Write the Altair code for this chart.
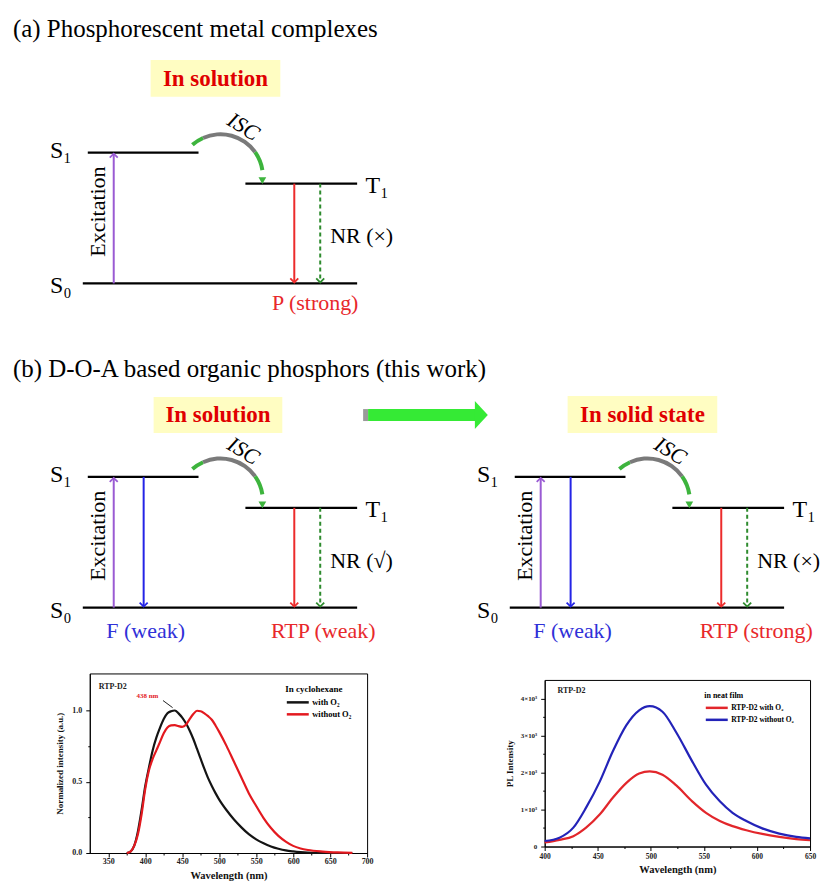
import altair as alt
import pandas as pd

FONT = "Liberation Serif"

# ======================= DATA =======================
# --- spectra: RTP-D2 in cyclohexane (normalized) ---
sol_wl = [375, 380, 385, 390, 395, 400, 405, 410, 415, 420, 425, 430, 435, 440, 445, 450,
          455, 460, 465, 470, 475, 480, 485, 490, 495, 500, 510, 520, 530, 540, 550, 560, 570,
          580, 590, 600, 610, 620, 640, 660, 680]
sol_with_o2 = [0.0, 0.01, 0.05, 0.15, 0.30, 0.47, 0.60, 0.72, 0.81, 0.88, 0.94, 0.98, 0.995, 1.0,
               0.98, 0.95, 0.91, 0.86, 0.80, 0.73, 0.66, 0.59, 0.525, 0.47, 0.42, 0.375, 0.30,
               0.235, 0.18, 0.132, 0.096, 0.068, 0.046, 0.03, 0.018, 0.011, 0.006, 0.003, 0.001,
               0.0, 0.0]
sol_without_o2 = [0.0, 0.01, 0.05, 0.13, 0.27, 0.45, 0.58, 0.66, 0.72, 0.78, 0.84, 0.88, 0.895,
                  0.897, 0.89, 0.885, 0.90, 0.94, 0.975, 0.998, 0.995, 0.98, 0.96, 0.935, 0.895,
                  0.85, 0.75, 0.64, 0.53, 0.42, 0.33, 0.245, 0.175, 0.12, 0.08, 0.05, 0.032,
                  0.021, 0.01, 0.004, 0.001]
sol_series = ["with O\u2082", "without O\u2082"]
sol_colors = ["#141414", "#E3191F"]

# --- spectra: RTP-D2 neat film (PL intensity) ---
film_wl = [400, 414, 427, 439, 452, 464, 477, 489, 499, 511, 524, 539, 552, 565, 577, 590,
           605, 621, 637, 650]
film_with_o2 = [110, 180, 280, 510, 870, 1310, 1720, 1970, 2030, 1940, 1650, 1220, 910, 690,
                550, 440, 340, 260, 200, 170]
film_without_o2 = [150, 240, 510, 1050, 1760, 2560, 3280, 3680, 3790, 3640, 3080, 2300, 1670,
                   1220, 910, 690, 490, 350, 260, 220]
film_series = ["RTP-D2 with O\u2082", "RTP-D2 without O\u2082"]
film_colors = ["#E2262B", "#2323B8"]

# --- Jablonski diagrams (schematic, page pixels) ---
panel_names = ["a", "b_solution", "b_solid"]
panel_dx = [0, 0, 428]
panel_dy = [0, 325, 325]

level_x1 = [87, 245, 82]
level_x2 = [198, 357, 357]
level_y = [151, 182, 282]
level_labels = ["S\u2081", "T\u2081", "S\u2080"]
level_label_x = [60, 377, 60]
level_label_y = [149, 184, 285]

arrow_x = [113, 143, 294, 320]
arrow_y_from = [282, 151, 182, 182]
arrow_y_to = [152, 281, 281, 281]
arrow_colors = ["#9A5BD3", "#2424E6", "#EC2B2B", "#2E8B2E"]
arrow_dashed = [False, False, False, True]
arrow_in_panel_a = [True, False, True, True]

excitation_x, excitation_y = 97, 210
nr_labels = ["NR (\u00d7)", "NR (\u221a)", "NR (\u00d7)"]
nr_x, nr_y = 330, 235

isc_cx, isc_cy = 220, 175
isc_theta_from = [5.56, 5.86, 7.24]
isc_theta_to = [5.86, 7.24, 7.70]
isc_colors = ["#3DB43D", "#7A7A7A", "#3DB43D"]
isc_head_x, isc_head_y = 262, 179
isc_label_x, isc_label_y = 243, 125

state_labels = ["In solution", "In solution", "In solid state"]
state_box_x1 = [150, 153, 568]
state_box_x2 = [280, 282, 718]
state_box_y1 = [58, 396, 395]
state_box_y2 = [95, 432, 432]
state_text_x = [215, 217.5, 643]
state_text_y = [77, 414, 414]

emission_labels = ["P (strong)", "F (weak)", "RTP (weak)", "F (weak)", "RTP (strong)"]
emission_x = [315, 145, 323, 573, 757]
emission_y = [302, 630, 630, 630, 630]
emission_colors = ["#E8282B", "#3030D8", "#E8282B", "#3030D8", "#E8282B"]

section_titles = ["(a) Phosphorescent metal complexes",
                  "(b) D-O-A based organic phosphors (this work)"]
section_title_x = [12, 12]
section_title_y = [27.5, 367.5]

# ======================= DIAGRAM =======================
xs = alt.Scale(domain=[89, 825], nice=False, zero=False)
ys = alt.Scale(domain=[0, 673], reverse=True, nice=False, zero=False)


def X(f):
    return alt.X(f"{f}:Q", scale=xs, axis=None, title=None)


def Y(f):
    return alt.Y(f"{f}:Q", scale=ys, axis=None, title=None)


levels, level_txt, arrows, texts_c, texts_l, rot_txt, isc_txt, arcs, isc_heads = ([] for _ in range(9))
for p, dx, dy in zip(panel_names, panel_dx, panel_dy):
    for x1, x2, y in zip(level_x1, level_x2, level_y):
        levels.append({"x1": x1 + dx, "x2": x2 + dx, "y": y + dy})
    for t, x, y in zip(level_labels, level_label_x, level_label_y):
        level_txt.append({"x": x + dx, "y": y + dy, "t": t})
    for x, y1, y2, c, d, ina in zip(arrow_x, arrow_y_from, arrow_y_to, arrow_colors, arrow_dashed, arrow_in_panel_a):
        if p == "a" and not ina:
            continue
        arrows.append({"x": x + dx, "y1": y1 + dy, "y2": y2 + dy, "c": c, "dashed": d,
                       "dir": "up" if y2 < y1 else "down"})
    rot_txt.append({"x": excitation_x + dx, "y": excitation_y + dy, "t": "Excitation", "a": 270})
    isc_txt.append({"x": isc_label_x + dx, "y": isc_label_y + dy, "t": "ISC", "a": 32})
    for t1, t2, c in zip(isc_theta_from, isc_theta_to, isc_colors):
        arcs.append({"x": isc_cx + dx, "y": isc_cy + dy, "t1": t1, "t2": t2, "c": c})
    isc_heads.append({"x": isc_head_x + dx, "y": isc_head_y + dy})
for t, p, dx, dy in zip(nr_labels, panel_names, panel_dx, panel_dy):
    texts_l.append({"x": nr_x + dx, "y": nr_y + dy, "t": t, "s": 22})
for t, x, y in zip(section_titles, section_title_x, section_title_y):
    texts_l.append({"x": x, "y": y, "t": t, "s": 25})
for t, x, y, c in zip(emission_labels, emission_x, emission_y, emission_colors):
    texts_c.append({"x": x, "y": y, "t": t, "c": c})

levels_df = pd.DataFrame(levels)
arrows_df = pd.DataFrame(arrows)

bg = alt.Chart(pd.DataFrame({"x": [0], "x2": [825], "y": [0], "y2": [882]})).mark_rect(
    fill="white").encode(x=X("x"), x2="x2", y=Y("y"), y2="y2")

boxes = alt.Chart(pd.DataFrame({"x": state_box_x1, "x2": state_box_x2, "y": state_box_y1,
                                "y2": state_box_y2})).mark_rect(fill="#FFFDC2").encode(
    x=X("x"), x2="x2", y=Y("y"), y2="y2")
box_text = alt.Chart(pd.DataFrame({"x": state_text_x, "y": state_text_y, "t": state_labels})).mark_text(
    font=FONT, fontSize=23, fontWeight="bold", color="#E00000", baseline="middle").encode(
    x=X("x"), y=Y("y"), text="t:N")

level_lines = alt.Chart(levels_df).mark_rule(color="black", strokeWidth=2.2).encode(
    x=X("x1"), x2="x2", y=Y("y"))
level_labels_l = alt.Chart(pd.DataFrame(level_txt)).mark_text(
    font=FONT, fontSize=24, color="black", baseline="middle").encode(x=X("x"), y=Y("y"), text="t:N")

solid_arrows = alt.Chart(arrows_df[~arrows_df["dashed"]]).mark_rule(strokeWidth=2).encode(
    x=X("x"), y=Y("y1"), y2="y2", color=alt.Color("c:N", scale=None))
dash_arrows = alt.Chart(arrows_df[arrows_df["dashed"]]).mark_rule(strokeWidth=2, strokeDash=[4, 3]).encode(
    x=X("x"), y=Y("y1"), y2="y2", color=alt.Color("c:N", scale=None))
up_heads = alt.Chart(arrows_df[arrows_df["dir"] == "up"]).mark_point(
    shape="M-1,1L0,0L1,1", filled=False, size=64, strokeWidth=1.8, opacity=1).encode(
    x=X("x"), y=Y("y2"), color=alt.Color("c:N", scale=None))
down_heads = alt.Chart(arrows_df[arrows_df["dir"] == "down"]).mark_point(
    shape="M-1,-1L0,0L1,-1", filled=False, size=64, strokeWidth=1.8, opacity=1).encode(
    x=X("x"), y=Y("y2"), color=alt.Color("c:N", scale=None))

isc_arcs = alt.Chart(pd.DataFrame(arcs)).mark_arc(radius=44.5, radius2=40.5).encode(
    x=X("x"), y=Y("y"), theta=alt.Theta("t1:Q", scale=None, stack=None), theta2="t2",
    color=alt.Color("c:N", scale=None))
isc_arrow_heads = alt.Chart(pd.DataFrame(isc_heads)).mark_point(
    shape="triangle-down", filled=True, size=60, color="#3DB43D", opacity=1).encode(x=X("x"), y=Y("y"))
isc_text = alt.Chart(pd.DataFrame(isc_txt)).mark_text(
    font=FONT, fontSize=22, fontStyle="italic", color="black", baseline="middle").encode(
    x=X("x"), y=Y("y"), text="t:N", angle=alt.Angle("a:Q", scale=None))
exc_text = alt.Chart(pd.DataFrame(rot_txt)).mark_text(
    font=FONT, fontSize=22, color="black", baseline="middle").encode(
    x=X("x"), y=Y("y"), text="t:N", angle=alt.Angle("a:Q", scale=None))
left_text = alt.Chart(pd.DataFrame(texts_l)).mark_text(
    font=FONT, color="black", align="left", baseline="middle").encode(
    x=X("x"), y=Y("y"), text="t:N", size=alt.Size("s:Q", scale=None))
emis_text = alt.Chart(pd.DataFrame(texts_c)).mark_text(
    font=FONT, fontSize=22, baseline="middle").encode(
    x=X("x"), y=Y("y"), text="t:N", color=alt.Color("c:N", scale=None))

# big transition arrow (solution -> solid state)
big_shaft = alt.Chart(pd.DataFrame({"x": [368], "x2": [476], "y": [408], "y2": [420]})).mark_rect(
    color="#35EA35").encode(x=X("x"), x2="x2", y=Y("y"), y2="y2")
big_tail = alt.Chart(pd.DataFrame({"x": [363], "x2": [368], "y": [408], "y2": [420]})).mark_rect(
    color="#9A9A9A").encode(x=X("x"), x2="x2", y=Y("y"), y2="y2")
big_head = alt.Chart(pd.DataFrame({"x": [481.5], "y": [414]})).mark_point(
    shape="M-1,-2.15L1,0L-1,2.15Z", filled=True, size=169, color="#35EA35", opacity=1).encode(
    x=X("x"), y=Y("y"))

diagram = alt.layer(
    bg, boxes, box_text, big_tail, big_shaft, big_head,
    level_lines, solid_arrows, dash_arrows, up_heads, down_heads,
    isc_arcs, isc_arrow_heads, isc_text, exc_text, level_labels_l, left_text, emis_text,
).properties(width=736, height=673, view=alt.ViewBackground(stroke="transparent"))

# ======================= SPECTRA =======================
n1 = len(sol_wl)
sol_df = pd.DataFrame({"wl": sol_wl + sol_wl, "val": sol_with_o2 + sol_without_o2,
                       "series": [sol_series[0]] * n1 + [sol_series[1]] * n1})
n2 = len(film_wl)
film_df = pd.DataFrame({"wl": film_wl + film_wl, "val": film_with_o2 + film_without_o2,
                        "series": [film_series[0]] * n2 + [film_series[1]] * n2})

tick_cond_x = {"condition": {"test": "datum.value % 50 != 0", "value": 2}, "value": 4}
LEGEND_LINE = "M-1,0L3,0"

s1x_enc = alt.X("wl:Q", scale=alt.Scale(domain=[325, 700], nice=False, zero=False), axis=alt.Axis(
    values=list(range(350, 701, 25)), labelExpr="datum.value % 50 == 0 ? datum.label : ''",
    tickSize=tick_cond_x, labelFlush=False, labelOverlap=False, labelFontSize=8,
    labelPadding=1, title="Wavelength (nm)", titleFontSize=10.5, titleBaseline="alphabetic",
    titleY=26))
s1y_enc = alt.Y("val:Q", scale=alt.Scale(domain=[0, 1.26], nice=False, zero=False), axis=alt.Axis(
    values=[0, 0.25, 0.5, 0.75, 1.0],
    labelExpr="datum.value * 4 % 2 == 0 ? format(datum.value, '.1f') : ''",
    tickSize={"condition": {"test": "datum.value * 4 % 2 != 0", "value": 2}, "value": 4},
    labelOverlap=False, labelFontSize=8, labelPadding=4, title="Normalized intensity (a.u.)",
    titleFontSize=9, titlePadding=7))

spec1_lines = alt.Chart(sol_df).mark_line(strokeWidth=2.2, interpolate="monotone").encode(
    x=s1x_enc, y=s1y_enc,
    color=alt.Color("series:N", scale=alt.Scale(domain=sol_series, range=sol_colors),
                    legend=alt.Legend(title="In cyclohexane", orient="none", legendX=196, legendY=12,
                                      symbolType=LEGEND_LINE, symbolSize=121, symbolStrokeWidth=2.5,
                                      titleFont=FONT, titleFontSize=9, titleFontWeight="bold",
                                      labelFont=FONT, labelFontSize=8.5, labelFontWeight="bold",
                                      rowPadding=0, titlePadding=1, labelOffset=13, padding=0)),
    order=alt.Order("series:N"),
)
spec1_text = alt.Chart(pd.DataFrame({"wl": [337], "val": [1.167], "t": ["RTP-D2"]})).mark_text(
    font=FONT, fontSize=8, fontWeight="bold", align="left", baseline="middle", color="#222").encode(
    x=s1x_enc, y=s1y_enc, text="t:N")
spec1_peak = alt.Chart(pd.DataFrame({"wl": [403], "val": [1.10], "t": ["438 nm"]})).mark_text(
    font=FONT, fontSize=7, fontWeight="bold", baseline="middle", color="#E3191F").encode(
    x=s1x_enc, y=s1y_enc, text="t:N")
spec1_arrow = alt.Chart(pd.DataFrame({"wl": [424], "wl2": [437], "val": [1.07], "val2": [1.02]})).mark_rule(
    color="#222", strokeWidth=1).encode(x=s1x_enc, x2="wl2", y=s1y_enc, y2="val2")

spec1 = alt.layer(spec1_lines, spec1_text, spec1_peak, spec1_arrow).properties(
    width=278, height=180, view=alt.ViewBackground(stroke="black", strokeWidth=1))

s2x_enc = alt.X("wl:Q", scale=alt.Scale(domain=[400, 650], nice=False, zero=False), axis=alt.Axis(
    values=list(range(400, 651, 25)), labelExpr="datum.value % 50 == 0 ? datum.label : ''",
    tickSize=tick_cond_x, labelFlush=False, labelOverlap=False, labelFontSize=7.5,
    labelPadding=2, title="Wavelength (nm)", titleFontSize=10.5, titleBaseline="alphabetic",
    titleY=26))
s2y_enc = alt.Y("val:Q", scale=alt.Scale(domain=[0, 4500], nice=False, zero=False), axis=alt.Axis(
    values=list(range(0, 4001, 500)),
    labelExpr="datum.value % 1000 != 0 ? '' : (datum.value == 0 ? '0' : (datum.value / 1000) + '\u00d710\u00b3')",
    tickSize={"condition": {"test": "datum.value % 1000 != 0", "value": 2}, "value": 4},
    labelOverlap=False, labelFontSize=7, labelPadding=4, title="PL Intensity",
    titleFontSize=9, titlePadding=6))

spec2_lines = alt.Chart(film_df).mark_line(strokeWidth=2.2, interpolate="monotone").encode(
    x=s2x_enc, y=s2y_enc,
    color=alt.Color("series:N", scale=alt.Scale(domain=film_series, range=film_colors),
                    legend=alt.Legend(title="in neat film", orient="none", legendX=160, legendY=12,
                                      symbolType=LEGEND_LINE, symbolSize=121, symbolStrokeWidth=2.5,
                                      titleFont=FONT, titleFontSize=8, titleFontWeight="bold",
                                      labelFont=FONT, labelFontSize=7.5, labelFontWeight="bold",
                                      rowPadding=0, titlePadding=1, labelOffset=13, padding=0)),
)
spec2_text = alt.Chart(pd.DataFrame({"wl": [412], "val": [4190], "t": ["RTP-D2"]})).mark_text(
    font=FONT, fontSize=8, fontWeight="bold", align="left", baseline="middle", color="#222").encode(
    x=s2x_enc, y=s2y_enc, text="t:N")
spec2 = alt.layer(spec2_lines, spec2_text).properties(
    width=266, height=167, view=alt.ViewBackground(stroke="black", strokeWidth=1))

bottom = alt.hconcat(spec1, spec2, spacing=178, bounds="flush", center=True).resolve_scale(
    color="independent")
chart = alt.vconcat(diagram, bottom, spacing=0, bounds="flush").resolve_scale(
    color="independent").properties(padding=0).configure_view(
    stroke="transparent").configure_axis(
    grid=False, domainColor="black", tickColor="black", labelColor="#222", titleColor="#111",
    labelFont=FONT, titleFont=FONT, labelFontWeight="bold", titleFontWeight="bold")

chart.save("out.html", embed_options={"renderer": "svg", "actions": False})
